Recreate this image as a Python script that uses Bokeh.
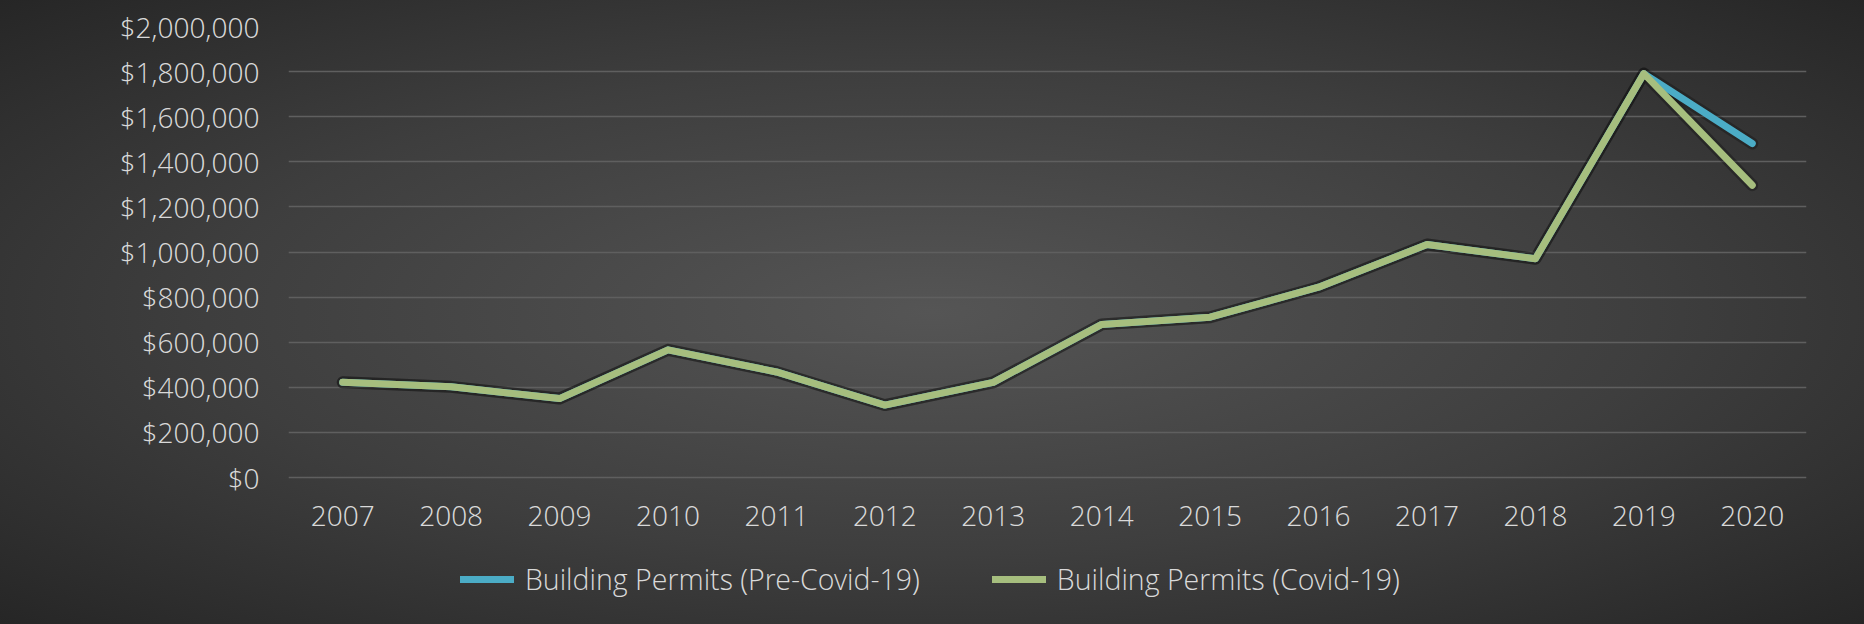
from bokeh.plotting import figure
from bokeh.models import Legend, LegendItem, NumeralTickFormatter, Range1d, ColumnDataSource
from bokeh.embed import file_html
from bokeh.resources import INLINE

years = ["2007", "2008", "2009", "2010", "2011", "2012", "2013",
         "2014", "2015", "2016", "2017", "2018", "2019", "2020"]
pre_covid = [422000, 402000, 350000, 566000, 468000, 321000, 422000,
             679000, 711000, 844000, 1033000, 970000, 1791000, 1481000]
covid = [422000, 402000, 350000, 566000, 468000, 321000, 422000,
         679000, 711000, 844000, 1033000, 970000, 1791000, 1296000]
y_ticks = [0, 200000, 400000, 600000, 800000, 1000000,
           1200000, 1400000, 1600000, 1800000, 2000000]

src = ColumnDataSource(dict(year=years, pre=pre_covid, cov=covid))

FONT = "'Open Sans Light', 'Open Sans'"
TXT = "#D9D9D9"
BLUE = "#4BACC6"
GREEN = "#A6BE7E"

# frame spans from y=26 to the bottom of the page (624); value 0 sits at y=477
Y_MAX = 2000000
Y_MIN = -Y_MAX * (624 - 477) / (477 - 26)

p = figure(x_range=years, y_range=Range1d(Y_MIN, Y_MAX),
           width=1864, height=624, output_backend="svg", toolbar_location=None,
           min_border_left=288, min_border_right=58, min_border_top=26,
           min_border_bottom=0)
p.styles = {"background": "radial-gradient(ellipse at 50% 50%, #555555 0%, #3e3e3e 55%, #262626 100%)"}
p.border_fill_color = None
p.background_fill_color = None
p.outline_line_color = None

# shadows (same data, soft dark halo)
p.line("year", "pre", source=src, line_color="black", line_alpha=0.25, line_width=12,
       line_cap="round", line_join="round")
p.line("year", "cov", source=src, line_color="black", line_alpha=0.25, line_width=12,
       line_cap="round", line_join="round")

r_blue = p.line("year", "pre", source=src, line_color=BLUE, line_width=7,
                line_cap="round", line_join="round")
r_green = p.line("year", "cov", source=src, line_color=GREEN, line_width=7,
                 line_cap="round", line_join="round")

p.yaxis.ticker = y_ticks
p.yaxis.formatter = NumeralTickFormatter(format="$0,0")
for ax in (p.xaxis, p.yaxis):
    ax.axis_line_color = None
    ax.major_tick_line_color = None
    ax.minor_tick_line_color = None
    ax.major_label_text_color = TXT
    ax.major_label_text_font = FONT
    ax.major_label_text_font_size = "28px"
p.yaxis.major_label_standoff = 23
p.xaxis.major_label_standoff = -125

p.xgrid.grid_line_color = None
p.ygrid.grid_line_color = "#5F5F5F"
p.ygrid.grid_line_width = 1.5

legend = Legend(items=[LegendItem(label="Building Permits (Pre-Covid-19)", renderers=[r_blue]),
                       LegendItem(label="Building Permits (Covid-19)", renderers=[r_green])],
                orientation="horizontal", location=(172, 26),
                background_fill_alpha=0, border_line_alpha=0,
                label_text_color=TXT, label_text_font=FONT, label_text_font_size="28.5px",
                glyph_width=54, label_standoff=11, spacing=72, padding=0, margin=0)
p.add_layout(legend, "center")

open("out.html", "w").write(file_html(p, INLINE))
